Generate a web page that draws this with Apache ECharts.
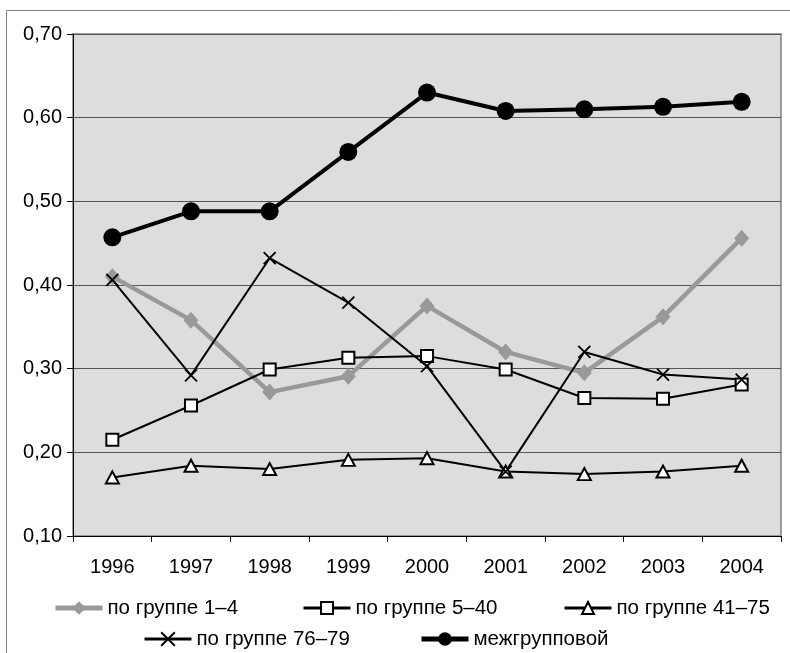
<!DOCTYPE html>
<html>
<head>
<meta charset="utf-8">
<script src="https://cdn.jsdelivr.net/npm/echarts@6/dist/echarts.min.js"></script>
<style>
html,body{margin:0;padding:0;background:#fff;}
#chart{width:790px;height:653px;}
</style>
</head>
<body>
<div id="chart"></div>
<script>
const years = ['1996','1997','1998','1999','2000','2001','2002','2003','2004'];
const g1_4   = [0.410, 0.358, 0.272, 0.291, 0.375, 0.320, 0.295, 0.362, 0.456];
const g5_40  = [0.215, 0.256, 0.299, 0.313, 0.315, 0.299, 0.265, 0.264, 0.281];
const g41_75 = [0.170, 0.184, 0.180, 0.191, 0.193, 0.177, 0.174, 0.177, 0.184];
const g76_79 = [0.406, 0.292, 0.432, 0.379, 0.303, 0.177, 0.320, 0.293, 0.287];
const inter  = [0.457, 0.488, 0.488, 0.559, 0.630, 0.608, 0.610, 0.613, 0.619];
const names = ['по группе 1–4','по группе 5–40','по группе 41–75','по группе 76–79','межгрупповой'];

const chart = echarts.init(document.getElementById('chart'));
const font = 'Liberation Sans, Arial, sans-serif';
const crossPath = 'path://M0,0L10,10M10,0L0,10';

function legendAt(name, left, centerY, itemH, lineW){
  return {
    data:[name], left:left, top:centerY - 12, itemWidth:47, itemHeight:itemH, itemGap:0,
    padding:0, lineStyle:{width:lineW},
    textStyle:{fontFamily:font, fontSize:20.5, color:'#000', height:24, lineHeight:24}
  };
}

chart.setOption({
  animation:false,
  backgroundColor:'#fff',
  graphic:[{
    type:'rect', shape:{x:6.5, y:10.5, width:820, height:700},
    style:{fill:'none', stroke:'#808080', lineWidth:1}, silent:true, z:-10
  }],
  grid:{left:73, top:34, width:708, height:502, show:true,
        backgroundColor:'#dddddd', borderColor:'#808080', borderWidth:1.5},
  legend:[
    legendAt(names[0], 53, 608, 17, 5),
    legendAt(names[1], 302, 608, 15, 3),
    legendAt(names[2], 563, 608, 15, 3),
    legendAt(names[3], 143, 639, 17, 3),
    legendAt(names[4], 419, 639, 17, 5)
  ],
  xAxis:{
    type:'category', data:years, boundaryGap:true,
    axisLine:{lineStyle:{color:'#000', width:1}},
    axisTick:{show:true, length:6, interval:0, alignWithLabel:false, lineStyle:{color:'#000'}},
    axisLabel:{fontFamily:font, fontSize:20, color:'#000', margin:21, interval:0},
    splitLine:{show:false}
  },
  yAxis:{
    type:'value', min:0.1, max:0.7, interval:0.1,
    axisLine:{show:true, lineStyle:{color:'#000', width:1}},
    axisTick:{show:true, length:6, lineStyle:{color:'#000'}},
    axisLabel:{fontFamily:font, fontSize:20, color:'#000', margin:11,
      formatter:v=>v.toFixed(2).replace('.',',')},
    splitLine:{show:true, lineStyle:{color:'#555', width:1}}
  },
  series:[
    {name:names[0], type:'line', data:g1_4, symbol:'diamond', symbolSize:[15,17],
     lineStyle:{color:'#999999', width:4.5}, itemStyle:{color:'#999999'}},
    {name:names[1], type:'line', data:g5_40, symbol:'rect', symbolSize:12,
     lineStyle:{color:'#000', width:2}, itemStyle:{color:'#fff', borderColor:'#000', borderWidth:2}},
    {name:names[2], type:'line', data:g41_75, symbol:'triangle', symbolSize:[13,12],
     lineStyle:{color:'#000', width:2}, itemStyle:{color:'#fff', borderColor:'#000', borderWidth:2}},
    {name:names[3], type:'line', data:g76_79, symbol:crossPath, symbolSize:12,
     lineStyle:{color:'#000', width:2}, itemStyle:{color:'#000', borderColor:'#000', borderWidth:1.8}},
    {name:names[4], type:'line', data:inter, symbol:'circle', symbolSize:18,
     lineStyle:{color:'#000', width:4}, itemStyle:{color:'#000'}}
  ]
});
</script>
</body>
</html>
